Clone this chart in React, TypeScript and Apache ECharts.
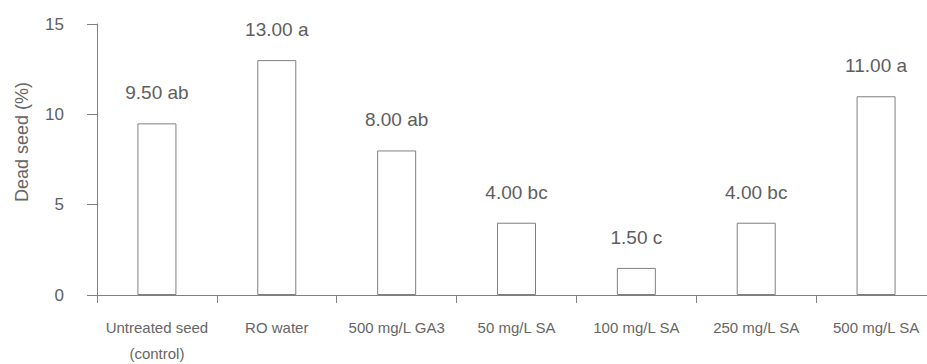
import React, { useEffect, useRef } from "react";
import * as echarts from "echarts";

const categories = [
  "Untreated seed\n(control)",
  "RO water",
  "500 mg/L GA3",
  "50 mg/L SA",
  "100 mg/L SA",
  "250 mg/L SA",
  "500 mg/L SA",
];
const values = [9.5, 13, 8, 4, 1.5, 4, 11];
const letters = ["ab", "a", "ab", "bc", "c", "bc", "a"];
const yTicks = { min: 0, max: 15, interval: 5 };
const yTitle = "Dead seed (%)";

const FONT = "'Liberation Sans', Arial, sans-serif";

export default function App() {
  const ref = useRef<HTMLDivElement>(null);
  useEffect(() => {
    document.body.style.margin = "0";
    if (!ref.current) return;
    const chart = echarts.init(ref.current, undefined, { renderer: "svg" });
    chart.setOption({
      animation: false,
      backgroundColor: "#ffffff",
      grid: {
        left: 97,
        right: -9,
        top: 24,
        bottom: 69,
        containLabel: false,
        outerBoundsMode: "none",
      },
      xAxis: {
        type: "category",
        data: categories,
        axisLine: { show: true, lineStyle: { color: "#808080", width: 1 } },
        axisTick: { show: true, length: 8, alignWithLabel: false, lineStyle: { color: "#808080" } },
        axisLabel: {
          interval: 0,
          margin: 19,
          fontFamily: FONT,
          fontSize: 15,
          lineHeight: 26,
          color: "#666666",
        },
        splitLine: { show: false },
      },
      yAxis: {
        type: "value",
        min: yTicks.min,
        max: yTicks.max,
        interval: yTicks.interval,
        axisLine: { show: true, lineStyle: { color: "#808080", width: 1 } },
        axisTick: { show: true, length: 10, lineStyle: { color: "#808080" } },
        axisLabel: {
          margin: 33,
          fontFamily: FONT,
          fontSize: 17,
          color: "#5e5e5e",
        },
        splitLine: { show: false },
      },
      graphic: [
        {
          type: "text",
          x: 22,
          y: 142,
          rotation: Math.PI / 2,
          style: {
            text: yTitle,
            fontFamily: FONT,
            fontSize: 18,
            fill: "#666666",
            align: "center",
            verticalAlign: "middle",
          },
        },
      ],
      series: [
        {
          type: "bar",
          data: values,
          barWidth: 39,
          itemStyle: { color: "#ffffff", borderColor: "#808080", borderWidth: 1 },
          label: {
            show: true,
            position: "top",
            distance: 21,
            fontFamily: FONT,
            fontSize: 19,
            color: "#5e5e5e",
            formatter: (p: any) => `${Number(p.value).toFixed(2)} ${letters[p.dataIndex]}`,
          },
        },
      ],
    });
    return () => chart.dispose();
  }, []);
  return <div ref={ref} style={{ width: 927, height: 364 }} />;
}
